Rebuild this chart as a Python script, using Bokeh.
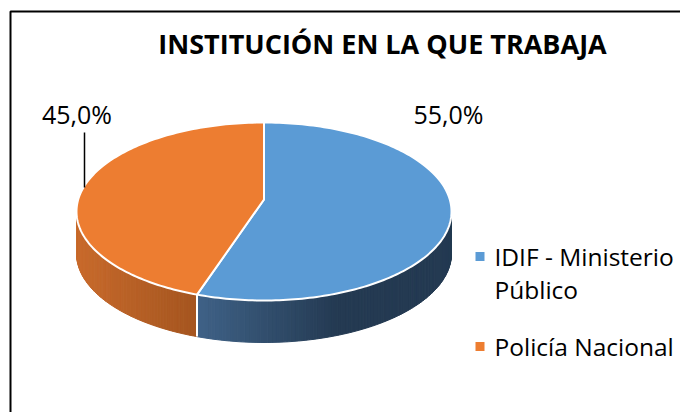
import math
import textwrap
from bokeh.plotting import figure
from bokeh.models import Range1d
from bokeh.core.properties import value
from bokeh.embed import file_html
from bokeh.resources import INLINE

# ---- data ----
title_text = "INSTITUCIÓN EN LA QUE TRABAJA"
categories = ["IDIF - Ministerio Público", "Policía Nacional"]
values = [55.0, 45.0]
top_colors = ["#5B9BD5", "#ED7D31"]
side_light = ["#3F6287", "#C86A2C"]
side_dark = ["#243A52", "#A4551F"]

# ---- geometry (pixels, y down) ----
W, H = 680, 412
cx, cy, rx, ry, depth = 263.5, 211.0, 187.5, 89.0, 42.0
apex_y = 199.0
FONT = "Open Sans"

p = figure(width=W, height=H, x_range=Range1d(0, W), y_range=Range1d(H, 0),
           output_backend="svg", toolbar_location=None, min_border=0)
p.axis.visible = False
p.grid.visible = False
p.outline_line_color = None
p.background_fill_color = "white"
p.border_fill_color = "white"


def pt(theta_deg, dy=0.0):
    # slight perspective warp: front half appears wider
    phi = theta_deg + 5.0 * math.sin(math.radians(2 * theta_deg))
    t = math.radians(phi)
    return cx + rx * math.sin(t), cy - ry * math.cos(t) + dy


def hex2rgb(h):
    h = h.lstrip("#")
    return [int(h[i:i + 2], 16) for i in (0, 2, 4)]


def lerp_col(a, b, t):
    ca, cb = hex2rgb(a), hex2rgb(b)
    return "#%02x%02x%02x" % tuple(int(round(ca[i] + (cb[i] - ca[i]) * t)) for i in range(3))


total = sum(values)
bounds = []
start = 0.0
for v in values:
    end = start + v / total * 360.0
    bounds.append((start, end))
    start = end

# side strips (front half only: 90..270 deg)
sx, sy, sc = [], [], []
split_angles = []
for i, (a0, a1) in enumerate(bounds):
    lo, hi = max(a0, 90.0), min(a1, 270.0)
    if lo >= hi:
        continue
    n = max(2, int((hi - lo) / 1.0))
    xs_edge = [pt(lo + (hi - lo) * k / n)[0] for k in range(n + 1)]
    xmin, xmax = min(xs_edge), max(xs_edge)
    for k in range(n):
        t0 = lo + (hi - lo) * k / n
        t1 = lo + (hi - lo) * (k + 1) / n
        x0, y0 = pt(t0)
        x1, y1 = pt(t1)
        xm = (x0 + x1) / 2
        if i == 0:
            xs_split = pt(a1)[0]
            tt = min(1.0, max(0.0, (xm - xs_split) / (0.55 * (xmax - xs_split))))
        else:
            tt = min(1.0, max(0.0, (xm - xmin) / (xmax - xmin)))
        col = lerp_col(side_light[i], side_dark[i], tt)
        sx.append([x0, x1, x1, x0])
        sy.append([y0, y1, y1 + depth, y0 + depth])
        sc.append(col)
    if 90.0 < a1 < 270.0:
        split_angles.append(a1)

p.patches(sx, sy, fill_color=sc, line_color=sc, line_width=1)
for a in split_angles:
    x0, y0 = pt(a)
    p.segment([x0], [y0], [x0], [y0 + depth], line_color="white", line_width=2)

# top face wedges
wx, wy = [], []
for (a0, a1) in bounds:
    n = max(4, int(a1 - a0))
    xs = [cx]
    ys = [apex_y]
    for k in range(n + 1):
        x, y = pt(a0 + (a1 - a0) * k / n)
        xs.append(x)
        ys.append(y)
    wx.append(xs)
    wy.append(ys)
p.patches(wx, wy, fill_color=top_colors, line_color="white", line_width=2, line_join="round")

# data labels
lbl_text = [("%.1f" % v).replace(".", ",") + "%" for v in values]
lbl_x = [448, 76.5]
lbl_y = [113, 113]
p.text(lbl_x, lbl_y, text=lbl_text, text_font=value(FONT), text_font_size="25px",
       text_align="center", text_baseline="middle", text_color="black")
p.segment([84], [132], [84], [187], line_color="black", line_width=1.5)

# title
p.text([382], [43], text=[title_text], text_font=value(FONT), text_font_size="27px",
       text_font_style="bold", text_align="center", text_baseline="middle", text_color="black")

# legend
leg_y = [256, 346]
p.scatter([479.5] * 2, leg_y, marker="square", size=9, fill_color=top_colors, line_color=None)
tx, ty, tt = [], [], []
for cat, y in zip(categories, leg_y):
    for j, line in enumerate(textwrap.wrap(cat, 17)):
        tx.append(494)
        ty.append(y + j * 33)
        tt.append(line)
p.text(tx, ty, text=tt, text_font=value(FONT), text_font_size="24.5px",
       text_align="left", text_baseline="middle", text_color="black")

# chart frame (left and top edges visible)
p.line([10, 10, W + 5], [H + 5, 11, 11], line_color="black", line_width=2)

open("out.html", "w").write(file_html(p, INLINE))
